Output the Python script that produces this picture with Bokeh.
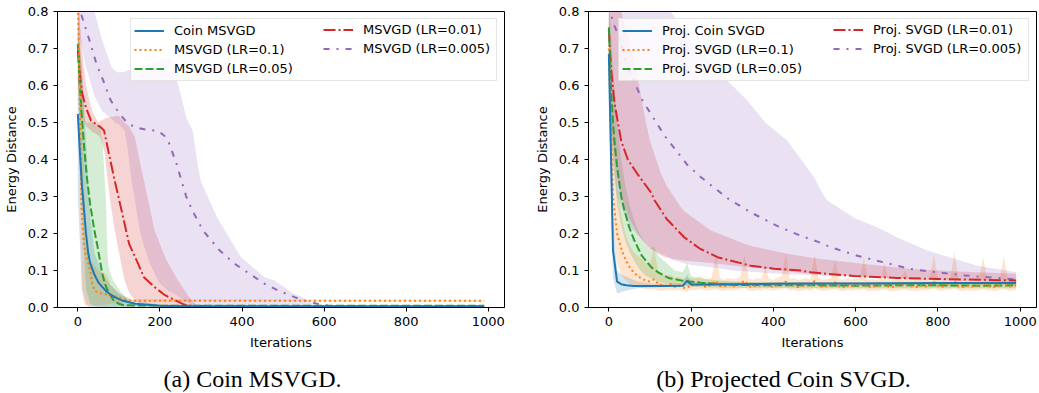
from bokeh.plotting import figure
from bokeh.models import Range1d, FixedTicker, Legend, LegendItem, Label, PrintfTickFormatter
from bokeh.layouts import row, column
from bokeh.embed import file_html
from bokeh.resources import INLINE

# ---------------- data ----------------
x_ticks = [0, 200, 400, 600, 800, 1000]
y_ticks = [0.0, 0.1, 0.2, 0.3, 0.4, 0.5, 0.6, 0.7, 0.8]

colors = ["#1f77b4", "#ff7f0e", "#2ca02c", "#d62728", "#9467bd"]
dashes = ["solid", "2 3", "8 3", "12 3 2 3", "6 7 2 7"]
labels_a = ["Coin MSVGD", "MSVGD (LR=0.1)", "MSVGD (LR=0.05)", "MSVGD (LR=0.01)", "MSVGD (LR=0.005)"]
labels_b = ["Proj. Coin SVGD", "Proj. SVGD (LR=0.1)", "Proj. SVGD (LR=0.05)",
            "Proj. SVGD (LR=0.01)", "Proj. SVGD (LR=0.005)"]
caption_a = "(a) Coin MSVGD."
caption_b = "(b) Projected Coin SVGD."

# ----- panel (a) -----
a_coin_x = [0, 5, 10, 15, 20, 25, 30, 40, 50, 60, 70, 80, 90, 110, 140, 200, 300, 990]
a_coin_y = [0.523, 0.42, 0.33, 0.265, 0.2, 0.15, 0.12, 0.09, 0.068, 0.055, 0.043, 0.035, 0.028, 0.018, 0.01, 0.005, 0.003, 0.003]
a_coin_bx = [0, 10, 20, 30, 40, 60, 80, 100, 130, 200, 990]
a_coin_lo = [0.3, 0.05, 0.01, 0.0, 0.0, 0.0, 0.0, 0.0, 0.0, 0.001, 0.001]
a_coin_hi = [0.75, 0.65, 0.45, 0.25, 0.15, 0.09, 0.06, 0.04, 0.02, 0.008, 0.005]

a_lr1_x = [0, 5, 9, 15, 20, 25, 30, 35, 41, 50, 70, 98, 115, 131, 990]
a_lr1_y = [0.85, 0.55, 0.27, 0.17, 0.14, 0.12, 0.1, 0.065, 0.045, 0.04, 0.035, 0.028, 0.022, 0.018, 0.018]
a_lr1_bx = [0, 5, 10, 15, 20, 30, 50, 70, 80, 100, 130, 990]
a_lr1_lo = [0.7, 0.3, 0.05, 0.01, 0.005, 0.005, 0.005, 0.008, 0.01, 0.012, 0.016, 0.016]
a_lr1_hi = [0.9, 0.75, 0.6, 0.35, 0.2, 0.13, 0.1, 0.09, 0.06, 0.035, 0.022, 0.02]

a_lr05_x = [0, 4, 8, 15, 22, 30, 40, 48, 55, 60, 66, 75, 88, 100, 113, 200, 990]
a_lr05_y = [0.712, 0.62, 0.54, 0.44, 0.352, 0.28, 0.21, 0.165, 0.12, 0.09, 0.064, 0.04, 0.018, 0.01, 0.006, 0.005, 0.005]
a_lr05_bx = [0, 5, 10, 15, 20, 30, 40, 55, 60, 68, 72, 75, 86, 100, 110, 130, 200, 990]
a_lr05_lo = [0.62, 0.45, 0.3, 0.15, 0.05, 0.01, 0.005, 0.002, 0.002, 0.002, 0.002, 0.002, 0.002, 0.002, 0.002, 0.003, 0.004, 0.004]
a_lr05_hi = [0.8, 0.7, 0.62, 0.52, 0.5, 0.5, 0.5, 0.49, 0.45, 0.3, 0.15, 0.11, 0.073, 0.05, 0.036, 0.01, 0.006, 0.006]

a_lr01_x = [0, 5, 11, 20, 32, 45, 56, 64, 75, 88, 105, 125, 147, 161, 187, 210, 236, 259, 280, 400, 990]
a_lr01_y = [0.694, 0.63, 0.577, 0.54, 0.505, 0.495, 0.487, 0.478, 0.42, 0.352, 0.27, 0.172, 0.118, 0.082, 0.055, 0.035, 0.02, 0.008, 0.004, 0.003, 0.003]
a_lr01_bx = [0, 10, 20, 35, 50, 55, 65, 72, 80, 90, 100, 114, 125, 139, 150, 160, 187, 215, 244, 270, 290, 400, 990]
a_lr01_hi = [0.85, 0.7, 0.6, 0.53, 0.5, 0.505, 0.51, 0.513, 0.515, 0.517, 0.518, 0.5, 0.49, 0.46, 0.4, 0.35, 0.208, 0.13, 0.073, 0.03, 0.005, 0.003, 0.003]
a_lr01_lo = [0.6, 0.52, 0.49, 0.475, 0.465, 0.46, 0.42, 0.35, 0.28, 0.208, 0.15, 0.073, 0.04, 0.02, 0.01, 0.005, 0.002, 0.002, 0.002, 0.002, 0.002, 0.002, 0.002]

a_lr005_x = [0, 9, 29, 45, 62, 80, 102, 120, 139, 170, 195, 210, 220, 240, 264, 280, 305, 345, 382, 420, 455, 490, 528, 560, 592, 620, 700, 990]
a_lr005_y = [0.85, 0.79, 0.72, 0.66, 0.613, 0.56, 0.523, 0.5, 0.487, 0.48, 0.478, 0.465, 0.451, 0.39, 0.3, 0.26, 0.208, 0.155, 0.118, 0.09, 0.064, 0.045, 0.028, 0.016, 0.008, 0.004, 0.003, 0.003]
a_lr005_bx = [0, 20, 41, 50, 60, 82, 90, 100, 114, 120, 130, 151, 160, 175, 195, 200, 220, 236, 240, 252,
              264, 270, 280, 293, 300, 317, 341, 398, 455, 479, 528, 544, 576, 600, 990]
a_lr005_hi = [0.9, 0.85, 0.8, 0.76, 0.72, 0.649, 0.64, 0.635, 0.637, 0.64, 0.645, 0.65, 0.655, 0.66, 0.665, 0.67, 0.676, 0.66, 0.62, 0.57,
              0.515, 0.5, 0.478, 0.379, 0.34, 0.298, 0.24, 0.135, 0.082, 0.073, 0.036, 0.03, 0.008, 0.004, 0.003]
a_lr005_lo = [0.75, 0.65, 0.57, 0.55, 0.53, 0.51, 0.5, 0.495, 0.478, 0.44, 0.35, 0.208, 0.17, 0.12, 0.073, 0.065, 0.045, 0.036, 0.033, 0.024,
              0.016, 0.01, 0.007, 0.004, 0.002, 0.002, 0.002, 0.002, 0.002, 0.002, 0.002, 0.002, 0.002, 0.002, 0.002]

# ----- panel (b) -----
b_coin_x = [0, 10, 20, 30, 42, 60, 100, 140, 180, 190, 200, 250, 300, 400, 500, 600, 800, 990]
b_coin_y = [0.685, 0.155, 0.07, 0.063, 0.06, 0.058, 0.058, 0.058, 0.059, 0.072, 0.062, 0.062, 0.063, 0.064, 0.065, 0.065, 0.066, 0.066]
b_coin_bx = [0, 10, 20, 30, 50, 70, 100, 180, 190, 200, 990]
b_coin_lo = [0.55, 0.08, 0.038, 0.042, 0.048, 0.052, 0.054, 0.057, 0.06, 0.058, 0.062]
b_coin_hi = [0.8, 0.25, 0.1, 0.09, 0.08, 0.07, 0.065, 0.065, 0.09, 0.068, 0.07]

b_lr1_x = list(range(0, 1000, 10))
b_lr1_y = [0.70, 0.30, 0.20, 0.16, 0.13, 0.11, 0.095, 0.085, 0.078, 0.072,
           0.07, 0.076, 0.064, 0.06, 0.058, 0.063, 0.056, 0.06, 0.054, 0.052,
           0.062, 0.057, 0.066, 0.058, 0.055, 0.064, 0.072, 0.058, 0.056, 0.063,
           0.057, 0.06, 0.066, 0.072, 0.058, 0.055, 0.062, 0.057, 0.066, 0.058,
           0.056, 0.061, 0.065, 0.07, 0.057, 0.06, 0.055, 0.058, 0.062, 0.056,
           0.072, 0.06, 0.055, 0.058, 0.062, 0.068, 0.057, 0.055, 0.06, 0.056,
           0.062, 0.058, 0.066, 0.055, 0.058, 0.056, 0.06, 0.064, 0.056, 0.055,
           0.058, 0.06, 0.063, 0.056, 0.058, 0.055, 0.06, 0.057, 0.062, 0.07,
           0.058, 0.056, 0.06, 0.062, 0.072, 0.057, 0.055, 0.06, 0.056, 0.058,
           0.06, 0.068, 0.056, 0.058, 0.055, 0.06, 0.069, 0.056, 0.058, 0.06]
b_lr1_hi = [0.82, 0.5, 0.33, 0.25, 0.2, 0.17, 0.15, 0.14, 0.13, 0.12,
            0.12, 0.16, 0.1, 0.09, 0.085, 0.088, 0.08, 0.082, 0.078, 0.08,
            0.08, 0.077, 0.085, 0.078, 0.076, 0.082, 0.145, 0.08, 0.075, 0.08,
            0.077, 0.078, 0.085, 0.145, 0.078, 0.075, 0.08, 0.077, 0.11, 0.078,
            0.075, 0.08, 0.085, 0.145, 0.077, 0.08, 0.075, 0.077, 0.08, 0.076,
            0.145, 0.08, 0.075, 0.077, 0.08, 0.127, 0.077, 0.075, 0.079, 0.076,
            0.08, 0.077, 0.136, 0.075, 0.077, 0.075, 0.078, 0.12, 0.076, 0.075,
            0.077, 0.079, 0.1, 0.076, 0.077, 0.075, 0.078, 0.076, 0.08, 0.145,
            0.077, 0.075, 0.078, 0.08, 0.151, 0.077, 0.075, 0.078, 0.076, 0.077,
            0.079, 0.136, 0.076, 0.077, 0.075, 0.078, 0.14, 0.076, 0.077, 0.079]
b_lr1_lo = [0.62, 0.22, 0.12, 0.09, 0.075, 0.065, 0.058, 0.055, 0.052, 0.05,
            0.048, 0.05, 0.046, 0.045, 0.047, 0.048, 0.046, 0.048, 0.045, 0.043,
            0.048, 0.046, 0.05, 0.047, 0.045, 0.048, 0.05, 0.046, 0.045, 0.048,
            0.046, 0.047, 0.05, 0.052, 0.046, 0.044, 0.048, 0.046, 0.05, 0.047,
            0.045, 0.048, 0.05, 0.052, 0.046, 0.048, 0.044, 0.046, 0.048, 0.045,
            0.052, 0.047, 0.044, 0.046, 0.048, 0.05, 0.046, 0.044, 0.047, 0.045,
            0.048, 0.046, 0.05, 0.044, 0.046, 0.045, 0.047, 0.049, 0.045, 0.044,
            0.046, 0.047, 0.049, 0.045, 0.046, 0.044, 0.047, 0.045, 0.048, 0.052,
            0.046, 0.045, 0.047, 0.048, 0.052, 0.046, 0.044, 0.047, 0.045, 0.046,
            0.047, 0.05, 0.045, 0.046, 0.044, 0.047, 0.05, 0.045, 0.046, 0.047]

b_lr05_x = [0, 5, 10, 14, 20, 30, 38, 50, 62, 80, 103, 120, 145, 180, 224, 305, 400, 500, 600, 700, 800, 900, 990]
b_lr05_y = [0.757, 0.6, 0.5, 0.445, 0.38, 0.3, 0.262, 0.215, 0.181, 0.14, 0.109, 0.095, 0.08, 0.072, 0.067, 0.061, 0.06, 0.06, 0.059, 0.06, 0.06, 0.059, 0.06]
b_lr05_bx = [0, 5, 10, 20, 30, 40, 50, 60, 70, 80, 90, 100, 110, 120, 140, 160, 180, 190, 200, 220, 250, 300, 400, 500, 600, 700, 800, 900, 990]
b_lr05_hi = [0.82, 0.75, 0.65, 0.5, 0.4, 0.33, 0.28, 0.24, 0.21, 0.19, 0.17, 0.16, 0.165, 0.14, 0.12, 0.1, 0.095, 0.12, 0.085, 0.08,
             0.075, 0.07, 0.068, 0.067, 0.067, 0.067, 0.066, 0.066, 0.066]
b_lr05_lo = [0.7, 0.5, 0.4, 0.28, 0.22, 0.18, 0.15, 0.13, 0.11, 0.095, 0.085, 0.08, 0.075, 0.07, 0.065, 0.06, 0.058, 0.058, 0.056, 0.055,
             0.054, 0.053, 0.053, 0.052, 0.052, 0.052, 0.052, 0.052, 0.052]

b_lr01_x = [0, 5, 14, 30, 46, 70, 103, 111, 140, 183, 220, 264, 345, 402, 466, 491, 596, 700, 800, 900, 990]
b_lr01_y = [0.75, 0.65, 0.55, 0.45, 0.4, 0.36, 0.31, 0.29, 0.24, 0.19, 0.16, 0.136, 0.113, 0.105, 0.1, 0.095, 0.085, 0.08, 0.077, 0.075, 0.073]
b_lr01_bx = [0, 10, 20, 30, 40, 50, 70, 90, 100, 127, 140, 175, 183, 248, 329, 350, 434, 500, 600, 700, 733, 850, 990]
b_lr01_hi = [0.82, 0.81, 0.8, 0.8, 0.76, 0.72, 0.62, 0.5, 0.45, 0.361, 0.33, 0.271, 0.26, 0.208, 0.172, 0.165, 0.145, 0.133, 0.12, 0.108,
             0.104, 0.097, 0.091]
b_lr01_lo = [0.7, 0.45, 0.35, 0.3, 0.27, 0.24, 0.2, 0.17, 0.16, 0.14, 0.135, 0.128, 0.127, 0.12, 0.11, 0.108, 0.097, 0.09, 0.085, 0.078,
             0.076, 0.072, 0.066]

b_lr005_x = [0, 10, 22, 46, 82, 135, 191, 224, 289, 345, 410, 466, 507, 539, 604, 668, 733, 800, 871, 930, 990]
b_lr005_y = [0.82, 0.77, 0.739, 0.649, 0.559, 0.465, 0.385, 0.352, 0.295, 0.257, 0.22, 0.194, 0.178, 0.163, 0.14, 0.122, 0.104, 0.095, 0.086, 0.081, 0.076]
b_lr005_bx = [0, 10, 20, 50, 100, 147, 150, 200, 256, 300, 337, 380, 434, 500, 515, 531, 600, 653, 700, 774, 895, 990]
b_lr005_hi = [0.9, 0.88, 0.86, 0.84, 0.82, 0.8, 0.8, 0.72, 0.649, 0.6, 0.559, 0.5, 0.451, 0.35, 0.316, 0.289, 0.24, 0.217, 0.19, 0.154,
              0.113, 0.095]
b_lr005_lo = [0.6, 0.4, 0.3, 0.22, 0.16, 0.135, 0.13, 0.115, 0.108, 0.1, 0.097, 0.094, 0.09, 0.087, 0.086, 0.085, 0.083, 0.082, 0.08, 0.078,
              0.075, 0.072]

panel_a = [
    (a_coin_x, a_coin_y, a_coin_bx, a_coin_lo, a_coin_hi),
    (a_lr1_x, a_lr1_y, a_lr1_bx, a_lr1_lo, a_lr1_hi),
    (a_lr05_x, a_lr05_y, a_lr05_bx, a_lr05_lo, a_lr05_hi),
    (a_lr01_x, a_lr01_y, a_lr01_bx, a_lr01_lo, a_lr01_hi),
    (a_lr005_x, a_lr005_y, a_lr005_bx, a_lr005_lo, a_lr005_hi),
]
panel_b = [
    (b_coin_x, b_coin_y, b_coin_bx, b_coin_lo, b_coin_hi),
    (b_lr1_x, b_lr1_y, b_lr1_x, b_lr1_lo, b_lr1_hi),
    (b_lr05_x, b_lr05_y, b_lr05_bx, b_lr05_lo, b_lr05_hi),
    (b_lr01_x, b_lr01_y, b_lr01_bx, b_lr01_lo, b_lr01_hi),
    (b_lr005_x, b_lr005_y, b_lr005_bx, b_lr005_lo, b_lr005_hi),
]

FONT = "DejaVu Sans"
PLOT_H = 360
CAP_H = 33


def make_panel(series, labels, width, border_left, border_right, lw_a, lw_b):
    p = figure(width=width, height=PLOT_H, output_backend="svg", toolbar_location=None,
               x_range=Range1d(-49.5, 1039.5), y_range=Range1d(0, 0.8),
               min_border_left=border_left, min_border_right=border_right,
               min_border_top=11, min_border_bottom=53)
    p.xgrid.visible = False
    p.ygrid.visible = False
    p.outline_line_color = "black"
    p.outline_line_alpha = 1.0
    p.outline_line_width = 1
    p.background_fill_color = "white"
    p.border_fill_color = "white"

    p.xaxis.ticker = FixedTicker(ticks=x_ticks)
    p.yaxis.ticker = FixedTicker(ticks=y_ticks)
    p.yaxis.formatter = PrintfTickFormatter(format="%.1f")
    p.xaxis.axis_label = "Iterations"
    p.yaxis.axis_label = "Energy Distance"
    for ax in (p.xaxis[0], p.yaxis[0]):
        ax.axis_line_color = "black"
        ax.major_tick_line_color = "black"
        ax.minor_tick_line_color = None
        ax.major_tick_out = 4
        ax.major_tick_in = 0
        ax.major_label_text_font = FONT
        ax.major_label_text_font_size = "13px"
        ax.major_label_text_color = "black"
        ax.axis_label_text_font = FONT
        ax.axis_label_text_font_size = "13px"
        ax.axis_label_text_font_style = "normal"
        ax.axis_label_text_color = "black"
        ax.major_label_standoff = 5
        ax.axis_label_standoff = 6

    # bands
    for (x, y, bx, lo, hi), c in zip(series, colors):
        p.varea(x=bx, y1=lo, y2=hi, fill_color=c, fill_alpha=0.2)
    # lines (coin line drawn last)
    rends = [None] * 5
    for i in [4, 3, 2, 1, 0]:
        x, y, bx, lo, hi = series[i]
        rends[i] = p.line(x, y, line_color=colors[i], line_width=2, line_dash=dashes[i])

    common = dict(location="top_right", margin=7, padding=3, spacing=2,
                  glyph_width=30, glyph_height=17, label_height=17, label_standoff=10,
                  label_text_font=FONT, label_text_font_size="13px", label_text_color="black")
    leg_a = Legend(items=[LegendItem(label=labels[i], renderers=[rends[i]]) for i in range(3)],
                   label_width=lw_a, border_line_color="#cccccc", border_line_width=1,
                   background_fill_color="white", background_fill_alpha=0.8, **common)
    leg_b = Legend(items=[LegendItem(label=labels[i], renderers=[rends[i]]) for i in range(3, 5)],
                   label_width=lw_b, border_line_alpha=0, background_fill_alpha=0, **common)
    p.add_layout(leg_a)
    p.add_layout(leg_b)
    return p


def make_caption(text, width, center_x):
    c = figure(width=width, height=CAP_H, output_backend="svg", toolbar_location=None,
               x_range=Range1d(0, 1), y_range=Range1d(0, 1),
               x_axis_type=None, y_axis_type=None,
               min_border_left=0, min_border_right=0, min_border_top=0, min_border_bottom=0)
    c.xgrid.visible = False
    c.ygrid.visible = False
    c.outline_line_color = None
    c.background_fill_color = "white"
    c.border_fill_color = "white"
    c.add_layout(Label(x=center_x, y=15, x_units="screen", y_units="screen", text=text,
                       text_align="center", text_baseline="alphabetic",
                       text_font="Liberation Serif", text_font_size="24px", text_color="black"))
    return c


p1 = make_panel(panel_a, labels_a, 520, 56, 16, 319, 131)
p2 = make_panel(panel_b, labels_b, 519, 68, 3, 363, 153)
c1 = make_caption(caption_a, 520, 252)
c2 = make_caption(caption_b, 519, 263)

layout = column(row(p1, p2), row(c1, c2))
open("out.html", "w").write(file_html(layout, INLINE))
